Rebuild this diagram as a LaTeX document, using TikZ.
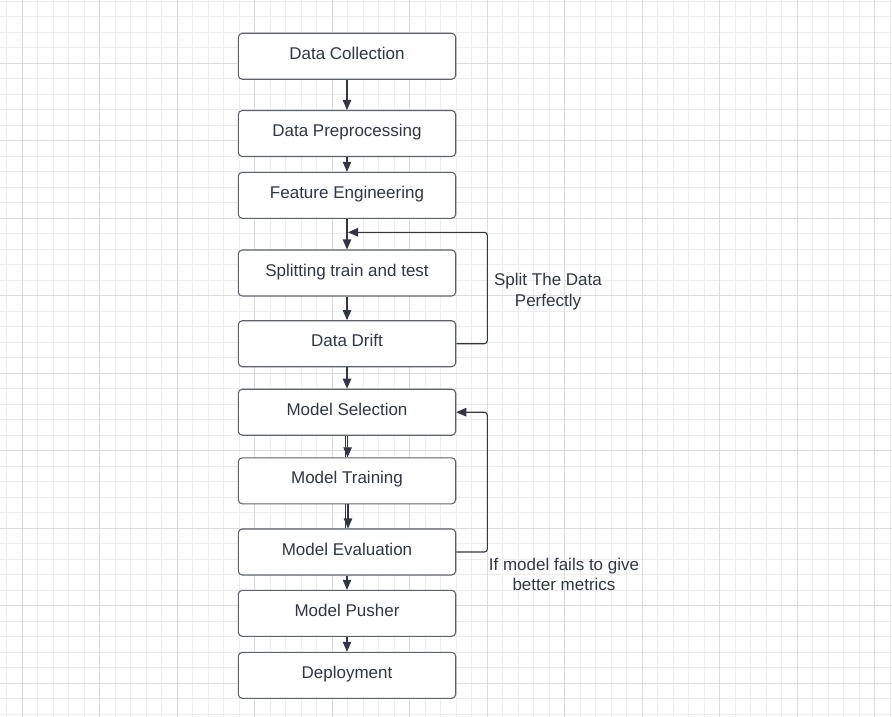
\documentclass[tikz,border=0pt]{standalone}
\usepackage{fontspec}
\setmainfont{Liberation Sans}
\usetikzlibrary{arrows.meta}
\definecolor{minorg}{HTML}{EDEDED}
\definecolor{majorg}{HTML}{DCDCDC}
\definecolor{ink}{HTML}{2F3744}
\definecolor{edge}{HTML}{5C616B}
\tikzset{
  stepbox/.style={draw=edge, line width=1.1pt, rounded corners=4pt, fill=white,
    minimum width=217.4pt, minimum height=46pt, inner sep=0pt,
    text height=12pt, text depth=6pt,
    text=ink, font=\fontsize{17}{20}\selectfont},
  conn/.style={draw=ink, line width=1.1pt},
  arr/.style={conn, -{Triangle[length=10pt,width=8.5pt]}},
  lbl/.style={text=ink, align=center, font=\fontsize{17}{20.5}\selectfont, inner sep=0pt}
}
\begin{document}
\begin{tikzpicture}[x=1pt,y=-1pt]
\useasboundingbox (0,0) rectangle (892,717);
\fill[white] (0,0) rectangle (892,717);
% grid
\foreach \i in {0,...,57} {
  \draw[minorg, line width=0.9pt] ({6.8+15.5*\i},0) -- ({6.8+15.5*\i},717);
}
\foreach \i in {0,...,46} {
  \draw[minorg, line width=0.9pt] (0,{1.3+15.5*\i}) -- (892,{1.3+15.5*\i});
}
\foreach \i in {0,...,11} {
  \draw[majorg, line width=0.9pt] ({22.3+77.5*\i},0) -- ({22.3+77.5*\i},717);
}
\foreach \i in {0,...,8} {
  \draw[majorg, line width=0.9pt] (0,{63.3+77.5*\i}) -- (892,{63.3+77.5*\i});
}
% nodes
\node[stepbox] (dc)  at (347,56.3)  {Data Collection};
\node[stepbox] (dp)  at (347,133.5) {Data Preprocessing};
\node[stepbox] (fe)  at (347,195.3) {Feature Engineering};
\node[stepbox] (st)  at (347,273)   {Splitting train and test};
\node[stepbox] (dd)  at (347,343.7) {Data Drift};
\node[stepbox] (ms)  at (347,412.2) {Model Selection};
\node[stepbox] (mt)  at (347,480.8) {Model Training};
\node[stepbox] (me)  at (347,552)   {Model Evaluation};
\node[stepbox] (mp)  at (347,613.3) {Model Pusher};
\node[stepbox] (dep) at (347,675.3) {Deployment};
% labels
\node[lbl] (l1) at (548,291.5) {Split The Data\\Perfectly};
\node[lbl] (l2) at (564,574.5) {If model fails to give\\better metrics};
% straight arrows
\draw[arr] (dc) -- (dp);
\draw[arr] (dp) -- (fe);
\draw[arr] (fe) -- (st);
\draw[arr] (st) -- (dd);
\draw[arr] (dd) -- (ms);
\draw[conn] ([xshift=-1.3pt]ms.south) -- ([xshift=-1.3pt]mt.north);
\draw[arr] ([xshift=0.6pt]ms.south) -- ([xshift=0.6pt]mt.north);
\draw[conn] ([xshift=-1.3pt]mt.south) -- ([xshift=-1.3pt]me.north);
\draw[arr] ([xshift=1pt]mt.south) -- ([xshift=1pt]me.north);
\draw[arr] (me) -- (mp);
\draw[arr] (mp) -- (dep);
% loops
\coordinate (j1) at (348,232.3);
\draw[arr, rounded corners=3pt] (dd.east) -- (487.3,343.7) -- (487.3,232.3) -- (j1);
\draw[arr, rounded corners=3pt] (me.east) -- (487.3,552) -- (487.3,412.2) -- (ms.east);
\end{tikzpicture}
\end{document}
